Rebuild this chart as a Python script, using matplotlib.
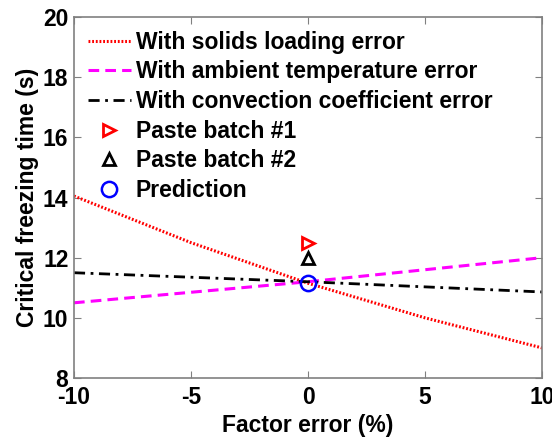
import matplotlib
matplotlib.use("Agg")
import matplotlib.pyplot as plt

plt.rcParams['font.family'] = ['Liberation Sans', 'DejaVu Sans']
plt.rcParams['font.weight'] = 'bold'
plt.rcParams['axes.unicode_minus'] = False

err_x = [-10, -5, 0, 5, 10]
solids = [14.05, 12.5, 11.15, 10.0, 9.0]
ambient = [10.5, 10.85, 11.2, 11.6, 12.0]
convection = [11.5, 11.35, 11.2, 11.03, 10.86]
batch1_x, batch1_y = [0], [12.5]
batch2_x, batch2_y = [0], [12.0]
pred_x, pred_y = [0], [11.15]

FS = 16.5

fig = plt.figure(figsize=(5.52, 4.37), dpi=100)
ax = fig.add_axes([0.134, 0.135, 0.848, 0.826])

ax.plot(err_x, solids, color='red', linestyle=(0, (0.6, 0.6)), lw=2.2, label='With solids loading error')
ax.plot(err_x, ambient, color='magenta', linestyle=(0, (3.5, 2)), lw=2.2, label='With ambient temperature error')
ax.plot(err_x, convection, color='black', linestyle=(0, (4, 2, 1, 2)), lw=2.0, label='With convection coefficient error')
ax.plot(batch1_x, batch1_y, linestyle='none', marker='>', ms=8, mfc='none', mec='red', mew=2, label='Paste batch #1')
ax.plot(batch2_x, batch2_y, linestyle='none', marker='^', ms=8, mfc='none', mec='black', mew=2, label='Paste batch #2')
ax.plot(pred_x, pred_y, linestyle='none', marker='o', ms=11, mfc='none', mec='blue', mew=1.8, label='Prediction')

ax.set_xlim(-10, 10)
ax.set_ylim(8, 20)
ax.set_xticks([-10, -5, 0, 5, 10])
ax.set_yticks([8, 10, 12, 14, 16, 18, 20])
ax.tick_params(direction='in', top=True, right=True, labelsize=FS, length=5, color='#808080')
ax.tick_params(axis='x', pad=6)
ax.tick_params(axis='y', pad=4)
for s in ax.spines.values():
    s.set_color('#808080')
    s.set_linewidth(1.2)
ax.set_xlabel('Factor error (%)', fontsize=FS, fontweight='bold', labelpad=3)
ax.set_ylabel('Critical freezing time (s)', fontsize=FS, fontweight='bold', labelpad=3)

leg = ax.legend(loc='upper left', frameon=False, handlelength=1.9,
                handletextpad=0.2, labelspacing=0.29, borderaxespad=0.2,
                prop={'weight': 'bold', 'size': FS})

fig.savefig('out.png', dpi=100)
